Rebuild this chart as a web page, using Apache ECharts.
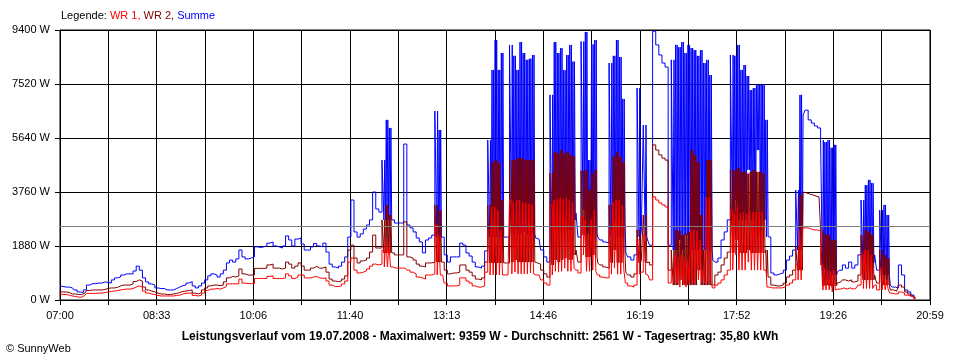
<!DOCTYPE html>
<html><head><meta charset="utf-8">
<script src="https://cdn.jsdelivr.net/npm/echarts@6/dist/echarts.min.js"></script>
<style>html,body{margin:0;padding:0;background:#fff}#c{width:960px;height:360px}</style>
</head><body><div id="c"></div>
<script>
// x tick labels (every second grid line)
const tickLabels = ['07:00','08:33','10:06','11:40','13:13','14:46','16:19','17:52','19:26','20:59'];
const spanMinutes = 839;      // 07:00 .. 20:59
const gridDivisions = 18;
const stepMinutes = 3;        // sample spacing of the arrays below, starting 07:00
const yMax = 9400, yStep = 1880;
const average = 2561;

// Summe (W), one reading per 3-minute bin
const summe = [
490,470,450,450,420,350,280,260,350,520,
570,570,590,590,630,610,590,700,770,800,
870,910,910,910,1010,1180,1040,770,630,560,
520,420,400,400,350,350,350,400,450,500,
520,590,640,490,420,490,590,700,840,910,
870,800,910,1040,1290,1390,1320,1430,1740,1500,
1430,1460,1500,1850,1830,1850,1880,1980,2020,1880,
1850,1810,1880,2230,2090,1880,2120,2160,1950,1740,
1740,1850,1970,1880,1850,1980,1670,1250,1150,1110,
1180,1320,1500,2190,3480,2370,2190,2300,2470,2610,
2790,3760,3170,3060,4870,6270,5990,2790,2680,2680,
2680,5430,2610,2510,2370,2160,2020,1640,2090,2160,
2260,6580,5920,2190,1570,1320,1500,1500,1500,1980,
1910,1640,1530,1320,1150,1110,1180,1710,5570,8010,
9050,8010,8600,2190,2190,8880,2440,8010,8980,2370,
8360,2260,8530,2160,2120,1740,1500,1320,1810,8980,
2440,8770,2790,8530,8880,2790,3030,2190,3130,9330,
4870,2440,9050,2190,2090,2020,1980,8250,2790,9050,
8460,2790,1640,1500,1390,1570,7380,2440,6090,2090,
1910,9359,8880,8530,8250,8110,1910,8360,8880,2090,
8980,2260,8880,8770,8700,1740,8700,8250,8360,7830,
1390,1320,1460,2090,2370,2790,8530,3480,8880,8010,
8180,4530,7310,7380,5220,7490,7520,6270,2190,940,
870,910,940,1040,1390,1530,1740,3830,7140,6440,
6610,6270,6160,6060,5990,5570,700,5570,870,5400,
970,1040,1220,1110,1320,1110,1220,1570,3480,4000,
4180,4070,1570,1040,3130,3310,2960,520,450,420,
1220,870,350,280,170,70
];

// WR 2 (W)
const wr2 = [
280,280,280,260,210,210,190,190,240,330,
350,350,350,350,370,400,420,420,440,490,
520,520,520,560,640,700,660,450,350,310,
280,240,210,210,190,190,210,230,260,300,
310,330,350,240,210,260,350,420,490,520,
520,500,520,630,770,820,800,840,1080,910,
870,870,870,1100,1100,1100,1110,1220,1250,1110,
1110,1080,1110,1320,1250,1110,1180,1290,1180,1040,
1040,1110,1170,1110,1110,1150,970,730,660,640,
660,730,840,1740,1910,1460,1290,1360,1390,1460,
1670,2260,1810,1810,2790,3310,2960,1640,1570,1570,
1570,2720,1500,1460,1390,1250,1180,1150,1290,1290,
1320,3310,3130,1320,1040,910,940,940,970,1220,
1220,1040,970,840,730,700,770,1320,3310,4800,
4870,4770,3480,1290,1290,4870,1390,4940,4940,1320,
4870,1320,4870,1290,1250,1040,910,800,1220,5150,
1320,5220,1460,5150,5050,1570,1740,1320,2260,4530,
3830,1570,4530,1290,1220,1150,1110,3310,1740,5150,
4980,1570,970,870,800,910,2440,1390,2960,1320,
1220,5400,5220,5050,4940,4870,1040,1740,2440,700,
2260,520,2370,5220,5050,1040,2960,1740,4870,4870,
520,870,970,1220,1460,1670,4530,2090,4600,4460,
4460,1740,4460,4530,4460,4460,4420,1740,800,520,
490,490,520,590,800,870,1040,1850,3660,3760,
3730,3690,3660,3620,3590,2440,520,2260,450,2090,
590,630,700,660,700,630,660,870,2260,2440,
2370,2260,870,590,1740,1570,1460,350,350,310,
520,450,280,210,140,70
];

// WR 1 (W)
const wr1 = [
210,190,190,170,140,120,100,100,160,230,
230,230,240,240,260,280,300,310,330,350,
370,380,380,400,450,490,450,310,240,210,
190,160,140,140,140,140,140,160,170,210,
230,240,240,160,140,170,240,330,380,380,
400,380,420,470,560,570,560,570,730,590,
570,570,570,750,750,750,750,820,840,750,
750,750,770,910,840,750,800,870,870,770,
770,800,820,770,750,770,660,520,470,470,
490,560,660,1320,1460,1040,940,970,1010,1080,
1180,1250,1220,1250,1740,2160,1910,1150,1110,1110,
1110,1110,1040,970,910,800,770,730,870,870,
910,2610,2260,870,590,490,490,490,520,770,
770,660,590,490,450,450,490,970,2440,3240,
3240,3130,2440,870,870,3480,970,3480,3480,910,
3380,940,3310,870,870,700,590,520,870,3480,
970,3550,1110,3550,3480,1110,1040,940,1570,2790,
2260,1040,3130,870,800,770,770,2440,1110,3480,
3480,1040,590,490,450,520,2090,970,2260,870,
700,3590,3480,3380,3310,3240,590,1040,1570,450,
1570,450,1390,2440,2440,700,2090,1040,3590,3590,
420,520,590,700,870,1040,3130,1570,3240,3030,
3060,1320,3060,3060,3060,3060,3060,1040,450,420,
420,420,420,450,520,590,700,1220,2440,2510,
2510,2470,2440,2440,2400,1220,350,1040,280,1040,
380,380,420,380,420,380,420,520,1570,1740,
1740,1570,520,350,1110,870,700,240,210,210,
280,240,170,140,100,30
];

// Bins in which the curves flicker rapidly; the second value read inside each such bin (W)
const flickerBins = [104,105,106, 121,122, 138,139,140,141,142,
  145,146,147,148,149,150,151,152,
  158,159,160,161,162,163,164,165,
  168,169,170,171,172,
  177,178,179,180,181,
  186,188,
  197,198,199,200,201,202,203,204,205,206,207,208,209,
  216,217,218,219,220,221,222,223,224,225,226,227,
  237,238,
  245,246,247,248,249,
  258,259,260,261,
  264,265,266];
const summeAlt = [2790,2790,2790, 2190,2190, 2190,2190,2190,2190,2190,
  2300,8500,2300,2300,8600,2300,8400,2300,
  7140,2440,8600,2440,8000,2440,2440,8300,
  9000,2300,2300,8900,2300,
  2200,8500,2200,2200,7000,
  2200,2200,
  1740,1740,8800,1740,8600,1740,1740,1740,8500,1740,1740,1740,1740,
  2800,8500,2800,2800,2800,7800,2800,2800,7500,2800,2800,2200,
  1740,1740,
  700,5500,700,5300,870,
  1300,1300,1300,1300,
  870,870,870];
const wr2Alt = [1640,1640,1640, 1320,1320, 1290,1290,1290,1290,1290,
  1320,4870,1320,1320,4900,1320,4870,1320,
  4420,1400,5100,1400,5100,1400,1400,5000,
  4500,1500,1500,4400,1500,
  1300,5000,1300,1300,4800,
  1300,1300,
  520,520,2400,520,2300,520,520,520,4800,520,520,520,520,
  1640,4500,1640,1640,1640,4400,1640,1640,1640,1640,1640,800,
  1040,1040,
  500,2300,500,2100,500,
  700,700,700,700,
  520,520,520];
const wr1Alt = [1150,1150,1150, 870,870, 870,870,870,870,870,
  910,3400,910,910,3400,910,3350,910,
  3300,1000,3500,1000,3500,1000,1000,3400,
  2900,1000,1000,2800,1000,
  900,3400,900,900,3300,
  900,900,
  600,600,1500,600,1500,600,600,600,2400,600,600,600,600,
  1040,3000,1040,1040,1040,3000,1040,1040,1040,1040,1040,450,
  700,700,
  350,1100,350,1000,350,
  400,400,400,400,
  350,350,350];

// inside a flicker bin the curve swings between its two readings (high, low, ...)
function build(vals, alts, swings){
  const out = [];
  vals.forEach((v,i)=>{
    const t = i*stepMinutes;
    const k = flickerBins.indexOf(i);
    if (k < 0) { out.push([t, v]); return; }
    const hi = Math.max(v, alts[k]), lo = Math.min(v, alts[k]);
    for (let s = 0; s < swings; s++) {
      out.push([t + s*stepMinutes/swings, s % 2 === 0 ? hi : lo]);
    }
  });
  return out;
}
const xInterval = spanMinutes / gridDivisions;
const font = 'Liberation Sans, Arial, Helvetica, sans-serif';
const chart = echarts.init(document.getElementById('c'), null, {renderer:'canvas'});
const lineBase = {type:'line', step:'middle', showSymbol:false, symbol:'none', animation:false, silent:true};
chart.setOption({
  animation:false,
  backgroundColor:'#ffffff',
  textStyle:{fontFamily:font},
  title:[
    {text:'{k|Legende: }{a|WR 1, }{b|WR 2, }{c|Summe}', left:61, top:10, padding:0,
     textStyle:{fontFamily:font, fontSize:11, fontWeight:'normal', rich:{
       k:{color:'#000000',fontSize:11,fontFamily:font},
       a:{color:'#ff0000',fontSize:11,fontFamily:font},
       b:{color:'#800000',fontSize:11,fontFamily:font},
       c:{color:'#0000ff',fontSize:11,fontFamily:font}}}},
    {text:'Leistungsverlauf vom 19.07.2008 - Maximalwert: 9359 W - Durchschnitt: 2561 W - Tagesertrag: 35,80 kWh',
     left:'center', top:331, padding:0,
     textStyle:{fontFamily:font, fontSize:12, fontWeight:'bold', color:'#000000'}},
    {text:'© SunnyWeb', left:6, top:343, padding:0,
     textStyle:{fontFamily:font, fontSize:11, fontWeight:'normal', color:'#000000'}}
  ],
  grid:{left:60, right:30, top:30, bottom:60, show:true, borderColor:'#000000', borderWidth:1, backgroundColor:'transparent'},
  xAxis:{
    type:'value', min:0, max:spanMinutes, interval:xInterval,
    axisLine:{show:true, lineStyle:{color:'#000000', width:1}},
    axisTick:{show:true, length:5, lineStyle:{color:'#000000', width:1}},
    splitLine:{show:true, lineStyle:{color:'#000000', width:1}},
    axisLabel:{color:'#000000', fontSize:11, fontFamily:font, margin:10, showMinLabel:true, showMaxLabel:true,
      formatter:(v)=>{const k=Math.round(v/xInterval); return (k%2===0 && tickLabels[k/2]) ? tickLabels[k/2] : '';}}
  },
  yAxis:{
    type:'value', min:0, max:yMax, interval:yStep,
    axisLine:{show:true, lineStyle:{color:'#000000', width:1}},
    axisTick:{show:true, length:5, lineStyle:{color:'#000000', width:1}},
    splitLine:{show:true, lineStyle:{color:'#000000', width:1}},
    axisLabel:{color:'#000000', fontSize:11, fontFamily:font, margin:10, formatter:(v)=>String(v) + ' W'}
  },
  series:[
    Object.assign({}, lineBase, {name:'Summe', data:build(summe, summeAlt, 4), z:2,
      lineStyle:{color:'#0000ff', width:1}, itemStyle:{color:'#0000ff'}}),
    Object.assign({}, lineBase, {name:'WR 2', data:build(wr2, wr2Alt, 4), z:3,
      lineStyle:{color:'#800000', width:1}, itemStyle:{color:'#800000'}}),
    Object.assign({}, lineBase, {name:'WR 1', data:build(wr1, wr1Alt, 2), z:4,
      lineStyle:{color:'#ff0000', width:1}, itemStyle:{color:'#ff0000'},
      markLine:{silent:true, symbol:'none', animation:false, label:{show:false},
        lineStyle:{color:'#808080', type:'solid', width:1}, data:[{yAxis:average}]}})
  ]
});
</script></body></html>
